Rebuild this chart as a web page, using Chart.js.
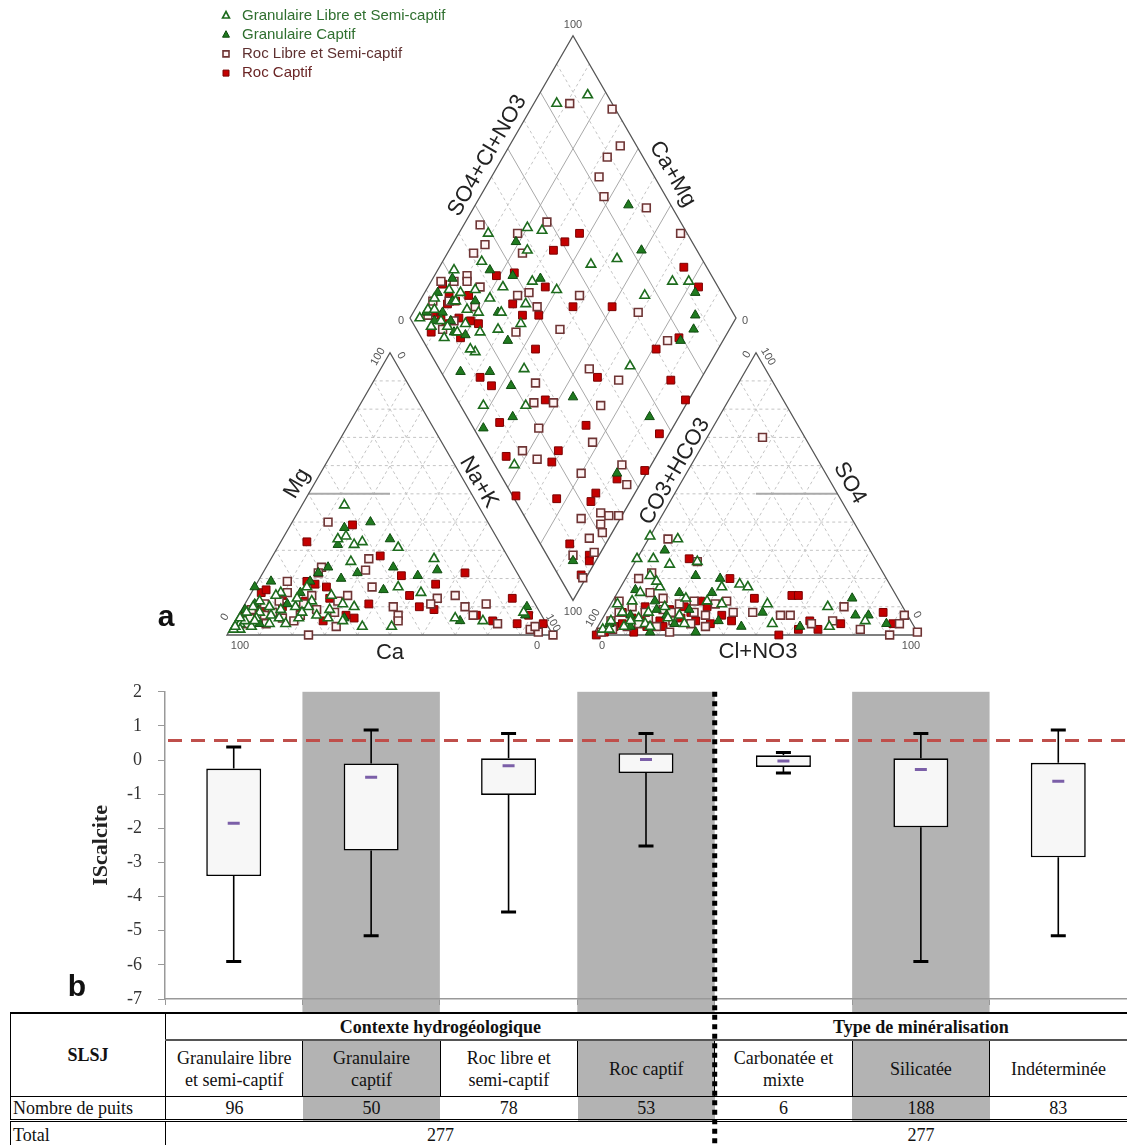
<!DOCTYPE html>
<html>
<head>
<meta charset="utf-8">
<script src="https://cdn.jsdelivr.net/npm/chart.js@4.4.1/dist/chart.umd.min.js"></script>
<style>
  html, body { margin: 0; padding: 0; background: #fff; width: 1127px; height: 1145px; overflow: hidden; position: relative; }
  #piper { position: absolute; left: 0; top: 0; }
  #box { position: absolute; left: 0; top: 665px; z-index: 2; pointer-events: none; }
  #tbl { position: absolute; left: 10px; top: 1012px; width: 1117px; border-collapse: collapse; table-layout: fixed;
         font-family: "Liberation Serif", "Times New Roman", serif; font-size: 18px; color: #111; line-height: 22px; z-index: 1; }
  #tbl td { padding: 0; text-align: center; vertical-align: middle; white-space: nowrap; }
  #tbl tr.r1 td { height: 25px; border-top: 2px solid #000; }
  #tbl td.grp { font-weight: bold; border-bottom: 2px solid #555; }
  #tbl td.corner { font-weight: bold; border-left: 1px solid #000; border-right: 1px solid #000; border-bottom: 1px solid #000; }
  #tbl tr.r2 td { height: 55px; border-bottom: 1px solid #000; border-right: 1px solid #000; }
  #tbl tr.r2 td:last-child { border-right: none; }
  #tbl tr.r3 td { height: 22px; border-bottom: 3px double #000; }
  #tbl tr.r4 td { height: 25px; }
  #tbl td.lab { text-align: left; padding-left: 2px; border-left: 1px solid #000; border-right: 1px solid #000; }
  #tbl td.shade { background: #b3b3b3; }
</style>
</head>
<body>
<canvas id="piper" width="1127" height="665"></canvas>
<canvas id="box" width="1127" height="480"></canvas>
<table id="tbl"></table>
<script>
// ---------- Piper diagram data ----------
// cation triangle: [Ca %, Mg %]  (Na+K = rest)
const glCation = [[41,46],[32,31],[23,27],[33,15],[48,3],[57,3],[69,7],[80,4],[91,3],[94,4],[49,26],[42,33],[45,32],[46,35],[39,17],[27,6],[19,5],[5,8],[82,10],[86,8],[74,10],[76,15],[67,17],[61,14],[49,34],[92,5],[85,4],[59,11],[68,12],[56,10],[88,6],[95,2],[90,8],[84,12],[78,14],[72,13],[64,9],[62,5],[75,6],[93,6],[97,2],[83,7],[96,3],[89,5],[87,10],[81,6],[79,9],[73,8],[66,6],[70,10]];
const gcCation = [[36,40],[33,34],[24,23],[31,21],[37,24],[49,22],[45,38],[50,32],[61,6],[61,22],[57,24],[83,17],[77,19],[76,11],[3,10],[5,7],[26,5],[44,16],[65,19],[86,11],[93,5],[88,4],[90,9],[70,15],[55,20]];
const rlCation = [[49,40],[43,27],[46,23],[47,17],[44,10],[44,7],[29,13],[23,14],[22,10],[15,11],[15,4],[6,2],[4,1],[0,0],[75,0],[65,3],[45,5],[59,24],[60,12],[56,14],[72,19],[78,12],[83,11],[85,7],[74,7],[32,11],[21,7],[4,3],[61,22],[74,15],[88,9],[80,6],[68,9],[92,4],[90,6],[86,4],[82,8],[77,5],[71,11],[67,14],[63,8]];
const rcCation = [[59,33],[42,39],[39,28],[36,21],[16,22],[37,14],[36,10],[6,13],[4,7],[1,4],[16,5],[20,7],[51,11],[58,6],[60,7],[82,15],[76,14],[66,19],[64,18],[27,18],[32,9],[9,4],[61,17],[62,13],[80,16],[88,8],[70,12],[91,7],[85,9],[78,10],[73,9],[68,5]];

// anion triangle: [Cl+NO3 %, SO4 %]  (CO3+HCO3 = rest)
const glAnion = [[0,35],[9,34],[0,27],[5,27],[11,25],[19,26],[7,21],[31,17],[36,18],[39,17],[48,11],[67,10],[71,3],[81,5],[2,11],[7,15],[12,17],[29,12],[23,7],[34,11],[8,3],[2,2],[14,4],[53,4],[5,8],[17,10],[11,6],[22,13],[3,5],[4,2],[9,5],[13,8],[16,3],[20,6],[26,4],[6,12],[10,19]];
const gcAnion = [[7,30],[21,21],[73,13],[77,7],[81,7],[88,4],[44,3],[31,1],[17,1],[48,8],[62,3],[5,16],[19,15],[29,15],[8,7],[19,7],[3,4],[29,20],[13,12],[25,9],[10,3],[15,9],[23,4],[36,5]];
const rlAnion = [[17,70],[6,34],[19,26],[72,10],[71,5],[54,7],[57,7],[92,7],[91,0],[99,1],[92,4],[81,2],[35,12],[32,11],[23,1],[2,12],[4,20],[7,22],[10,15],[17,9],[21,11],[27,8],[31,7],[39,8],[45,8],[3,5],[7,10],[2,1],[65,4],[12,4],[15,13],[25,12],[5,2],[9,3],[14,6],[18,3],[22,5],[28,4],[33,3],[4,8],[12,8],[20,8]];
const rcAnion = [[16,27],[32,20],[43,13],[54,14],[56,14],[57,0],[64,5],[68,2],[74,4],[85,8],[90,4],[62,2],[5,8],[5,3],[1,0],[12,1],[23,10],[26,8],[29,5],[30,10],[11,10],[18,5],[36,7],[19,9],[9,6],[15,3],[3,1],[7,4],[13,5],[20,3],[24,6],[34,4],[40,5],[27,12]];

// diamond: [Na+K %, SO4+Cl+NO3 %]
const glDiamond = [[7,83],[15,94],[9,39],[20,52],[25,56],[24,48],[46,65],[53,74],[74,87],[79,92],[68,76],[40,50],[12,32],[5,22],[7,17],[4,11],[4,7],[23,34],[31,44],[33,38],[21,28],[16,19],[29,25],[26,14],[44,26],[38,7],[51,20],[58,6],[76,59],[3,3],[8,5],[10,9],[14,7],[11,17],[18,16],[24,19],[24,13],[27,29],[11,20],[35,33],[6,9],[13,10],[17,12],[20,22],[15,25]];
const gcDiamond = [[47,87],[59,83],[83,92],[87,88],[89,85],[87,79],[19,46],[33,47],[16,33],[24,39],[26,28],[17,23],[9,11],[34,26],[43,19],[64,36],[49,14],[42,3],[25,6],[34,15],[91,56],[91,36],[93,7],[4,6],[8,7],[13,12],[16,11],[4,13],[10,16],[20,14],[6,20]];
const rlDiamond = [[11,87],[25,99],[34,95],[32,89],[33,83],[38,81],[53,92],[68,98],[25,59],[5,38],[18,48],[10,36],[8,31],[23,46],[10,25],[16,27],[29,37],[32,41],[48,56],[37,41],[69,71],[4,10],[9,15],[11,24],[3,16],[48,44],[35,30],[83,75],[64,46],[75,53],[50,27],[53,23],[59,29],[74,43],[59,20],[78,34],[58,11],[64,14],[80,25],[91,39],[96,37],[88,17],[93,24],[96,26],[95,22],[97,21],[99,29],[94,16],[98,15],[99,7],[92,8],[5,6],[12,8],[14,13],[7,20],[18,22]];
const rcDiamond = [[37,67],[34,61],[32,56],[75,93],[83,94],[60,64],[48,52],[36,47],[29,34],[34,35],[39,40],[19,34],[24,40],[4,16],[9,14],[11,17],[8,16],[9,10],[44,33],[68,47],[56,27],[46,9],[73,35],[54,5],[69,22],[69,18],[91,69],[81,70],[99,70],[97,56],[99,45],[92,35],[64,1],[77,13],[88,26],[88,23],[89,9],[97,13],[98,12],[98,7],[86,79],[32,11],[37,13],[9,4],[12,10],[19,12],[19,18],[6,8],[15,15],[22,20],[14,22]];

const groupNames = ['Granulaire Libre et Semi-captif', 'Granulaire Captif', 'Roc Libre et Semi-captif', 'Roc Captif'];

// ---------- Box plot data (IScalcite) ----------
const categories = ['Granulaire libre et semi-captif', 'Granulaire captif', 'Roc libre et semi-captif', 'Roc captif', 'Carbonatée et mixte', 'Silicatée', 'Indéterminée'];
const categoryLines = [['Granulaire libre', 'et semi-captif'], ['Granulaire', 'captif'], ['Roc libre et', 'semi-captif'], ['Roc captif'], ['Carbonatée et', 'mixte'], ['Silicatée'], ['Indéterminée']];
const boxMin    = [-5.9, -5.15, -4.45, -2.52, -0.38, -5.9, -5.15];
const boxQ1     = [-3.4, -2.65, -1.02, -0.38, -0.2, -1.97, -2.85];
const boxMedian = [-1.85, -0.5, -0.17, 0.02, -0.03, -0.28, -0.62];
const boxQ3     = [-0.25, -0.1, 0.05, 0.2, 0.14, 0.05, -0.08];
const boxMax    = [0.38, 0.88, 0.78, 0.78, 0.22, 0.78, 0.88];
const refLine = 0.57;
const yTicks = [-7, 2];

// ---------- Table data ----------
const tableGroups = ['Contexte hydrogéologique', 'Type de minéralisation'];
const tableSpans = [4, 3];
const wellCounts = [96, 50, 78, 53, 6, 188, 83];

// ---------- Piper geometry (units = percent of a triangle side) ----------
const U = 3.26;            // px per unit
const ORIGIN_X = 227, ORIGIN_Y = 635;
const H = Math.sqrt(3) / 2;
const GAP = 12.27;
const OFF = 100 + GAP;
const BX = 100 + GAP / 2, BY = GAP * H;

const catA = [0, 0], catB = [100, 0], catC = [50, 100 * H];
const anA = [OFF, 0], anB = [OFF + 100, 0], anC = [OFF + 50, 100 * H];
const dB = [BX, BY], dL = [BX - 50, BY + 100 * H], dT = [BX, BY + 200 * H], dR = [BX + 50, BY + 100 * H];

function cationXY(p) { const nak = 100 - p[0] - p[1]; return { x: nak + p[1] / 2, y: p[1] * H }; }
function anionXY(p) { return { x: OFF + p[0] + p[1] / 2, y: p[1] * H }; }
function diamondXY(p) { return { x: dL[0] + (p[1] + p[0]) / 2, y: dL[1] + (p[1] - p[0]) * H }; }

const styles = [
  { shape: 'triangle', fill: '#ffffff', stroke: '#1d6b1d', bw: 1.6, text: '#2f6f2f' },
  { shape: 'triangle', fill: '#1f7a1f', stroke: '#0f4a0f', bw: 1, text: '#2f6f2f' },
  { shape: 'rect', fill: '#fff4f4', stroke: '#6e3434', bw: 1.6, text: '#5e3030' },
  { shape: 'rect', fill: '#c40000', stroke: '#7a0000', bw: 1, text: '#6a2424' }
];
const cationSets = [glCation, gcCation, rlCation, rcCation];
const anionSets = [glAnion, gcAnion, rlAnion, rcAnion];
const diamondSets = [glDiamond, gcDiamond, rlDiamond, rcDiamond];

const piperDatasets = [];
groupNames.forEach((name, g) => {
  const s = styles[g];
  const pts = [].concat(cationSets[g].map(cationXY), anionSets[g].map(anionXY), diamondSets[g].map(diamondXY));
  piperDatasets.push({
    label: name, data: pts, pointStyle: s.shape, pointRadius: 5.5,
    backgroundColor: s.fill, borderColor: s.stroke, borderWidth: s.bw
  });
});

const lerp = (a, b, t) => [a[0] + (b[0] - a[0]) * t, a[1] + (b[1] - a[1]) * t];

const piperDecor = {
  id: 'piperDecor',
  beforeDatasetsDraw(chart) {
    const { ctx, scales: { x, y } } = chart;
    const P = p => [x.getPixelForValue(p[0]), y.getPixelForValue(p[1])];
    const seg = (a, b) => { const A = P(a), B = P(b); ctx.beginPath(); ctx.moveTo(A[0], A[1]); ctx.lineTo(B[0], B[1]); ctx.stroke(); };
    ctx.save();
    // triangle grids
    [[catA, catB, catC], [anA, anB, anC]].forEach(([A, B, C]) => {
      ctx.strokeStyle = '#c4c4c4'; ctx.lineWidth = 1; ctx.setLineDash([3, 3]);
      for (let i = 1; i < 10; i++) {
        const t = i / 10;
        seg(lerp(A, C, t), lerp(B, C, t));
        seg(lerp(A, B, t), lerp(C, B, t));
        seg(lerp(A, B, t), lerp(A, C, t));
      }
    });
    ctx.setLineDash([]);
    ctx.strokeStyle = '#aaaaaa'; ctx.lineWidth = 2;
    seg(lerp(catA, catC, 0.5), [50, 50 * H]);
    seg([OFF + 50, 50 * H], lerp(anB, anC, 0.5));
    // diamond grid
    for (let i = 1; i < 10; i++) {
      const t = i / 10;
      if (i % 2 === 0) { ctx.setLineDash([]); ctx.strokeStyle = '#a8a8a8'; ctx.lineWidth = 1; }
      else { ctx.setLineDash([3, 3]); ctx.strokeStyle = '#c4c4c4'; ctx.lineWidth = 1; }
      seg(lerp(dL, dB, t), lerp(dT, dR, t));
      seg(lerp(dL, dT, t), lerp(dB, dR, t));
    }
    // outlines
    ctx.setLineDash([]); ctx.strokeStyle = '#555'; ctx.lineWidth = 1.3;
    [[catA, catB, catC], [anA, anB, anC], [dL, dT, dR, dB]].forEach(poly => {
      ctx.beginPath();
      poly.forEach((p, i) => { const q = P(p); i ? ctx.lineTo(q[0], q[1]) : ctx.moveTo(q[0], q[1]); });
      ctx.closePath(); ctx.stroke();
    });
    ctx.restore();
  },
  afterDraw(chart) {
    const { ctx, scales: { x, y } } = chart;
    const P = p => [x.getPixelForValue(p[0]), y.getPixelForValue(p[1])];
    const txt = (s, px, py, ang, font, color) => {
      ctx.save(); ctx.translate(px, py); ctx.rotate(ang * Math.PI / 180);
      ctx.font = font; ctx.fillStyle = color; ctx.textAlign = 'center'; ctx.textBaseline = 'middle';
      ctx.fillText(s, 0, 0); ctx.restore();
    };
    const edgeLabel = (s, A, C, t, off, ang) => {
      const a = P(A), c = P(C);
      const len = Math.hypot(c[0] - a[0], c[1] - a[1]);
      const ex = (c[0] - a[0]) / len, ey = (c[1] - a[1]) / len;
      const px = a[0] + (c[0] - a[0]) * t + ey * off, py = a[1] + (c[1] - a[1]) * t - ex * off;
      txt(s, px, py, ang, '22px "Liberation Sans", Arial, sans-serif', '#222');
    };
    edgeLabel('Mg', catA, catC, 0.51, 15, -60);
    edgeLabel('Na+K', catB, catC, 0.52, -12, 60);
    edgeLabel('CO3+HCO3', anA, anC, 0.56, 11, -60);
    edgeLabel('SO4', anB, anC, 0.51, -16, 60);
    edgeLabel('SO4+Cl+NO3', dL, dT, 0.55, 14, -60);
    edgeLabel('Ca+Mg', dR, dT, 0.48, -17, 60);
    const cb = P(lerp(catA, catB, 0.5)), ab = P(lerp(anA, anB, 0.5));
    txt('Ca', cb[0], cb[1] + 18, 0, '22px "Liberation Sans", Arial, sans-serif', '#222');
    txt('Cl+NO3', ab[0] + 2, ab[1] + 17, 0, '22px "Liberation Sans", Arial, sans-serif', '#222');

    // small tick labels at the vertices
    const small = '11px "Liberation Sans", Arial, sans-serif';
    const ticks = [
      ['100', dT, 0, -11, 0], ['0', dL, -9, 3, 0], ['0', dR, 9, 3, 0], ['100', dB, 0, 12, 0],
      ['100', catA, 13, 11, 0], ['0', catB, -16, 11, 0], ['0', catA, -2, -18, -60], ['100', catC, -12, 4, -60], ['0', catC, 11, 3, 60], ['100', catB, 0, -12, 60],
      ['100', anA, 0, -17, -60], ['0', anA, 9, 11, 0], ['100', anB, -8, 11, 0], ['0', anC, -9, 2, -60], ['100', anC, 12, 4, 60], ['0', anB, -2, -20, 60]
    ];
    ticks.forEach(([s, v, dx, dy, ang]) => { const p = P(v); txt(s, p[0] + dx, p[1] + dy, ang, small, '#555'); });

    txt('a', 166, 618, 0, 'bold 30px "Liberation Sans", Arial, sans-serif', '#111');

    // legend
    chart.data.datasets.forEach((ds, i) => {
      const s = styles[i];
      const ly = 15.5 + 19.2 * i, lx = 226, r = 4;
      ctx.save();
      ctx.fillStyle = s.fill; ctx.strokeStyle = s.stroke; ctx.lineWidth = s.bw;
      ctx.beginPath();
      if (s.shape === 'triangle') {
        ctx.moveTo(lx, ly - r); ctx.lineTo(lx + r * H, ly + r / 2 + 0.5); ctx.lineTo(lx - r * H, ly + r / 2 + 0.5); ctx.closePath();
      } else {
        ctx.rect(lx - 3, ly - 3, 6, 6);
      }
      ctx.fill(); ctx.stroke();
      ctx.font = '15px "Liberation Sans", Arial, sans-serif'; ctx.fillStyle = s.text; ctx.textBaseline = 'middle'; ctx.textAlign = 'left';
      ctx.fillText(ds.label, 242, ly);
      ctx.restore();
    });
  }
};

new Chart(document.getElementById('piper'), {
  type: 'scatter',
  data: { datasets: piperDatasets },
  options: {
    responsive: false, animation: false, devicePixelRatio: 1,
    layout: { padding: 0, autoPadding: false },
    scales: {
      x: { type: 'linear', display: false, min: -ORIGIN_X / U, max: (1127 - ORIGIN_X) / U },
      y: { type: 'linear', display: false, min: (ORIGIN_Y - 665) / U, max: ORIGIN_Y / U }
    },
    plugins: { legend: { display: false }, tooltip: { enabled: false } }
  },
  plugins: [piperDecor]
});

// ---------- Box plot ----------
const boxDecor = {
  id: 'boxDecor',
  beforeDraw(chart) {
    const { ctx, chartArea, scales: { x } } = chart;
    const half = (x.getPixelForValue(1) - x.getPixelForValue(0)) / 2;
    ctx.save(); ctx.fillStyle = '#b3b3b3';
    categories.forEach((c, i) => {
      if (i % 2 === 1) {
        const cx = x.getPixelForValue(i);
        ctx.fillRect(cx - half, chartArea.top, half * 2, 347 - chartArea.top);
      }
    });
    ctx.restore();
  },
  beforeDatasetsDraw(chart) {
    const { ctx, scales: { x, y } } = chart;
    ctx.save(); ctx.strokeStyle = '#000';
    boxMin.forEach((lo, i) => {
      const cx = x.getPixelForValue(i);
      const yLo = y.getPixelForValue(lo), yHi = y.getPixelForValue(boxMax[i]);
      ctx.lineWidth = 1.6;
      ctx.beginPath();
      ctx.moveTo(cx, yHi); ctx.lineTo(cx, y.getPixelForValue(boxQ3[i]));
      ctx.moveTo(cx, y.getPixelForValue(boxQ1[i])); ctx.lineTo(cx, yLo);
      ctx.stroke();
      ctx.lineWidth = 3;
      ctx.beginPath();
      ctx.moveTo(cx - 7.5, yHi); ctx.lineTo(cx + 7.5, yHi);
      ctx.moveTo(cx - 7.5, yLo); ctx.lineTo(cx + 7.5, yLo);
      ctx.stroke();
    });
    ctx.restore();
  },
  afterDatasetsDraw(chart) {
    const { ctx, chartArea, scales: { y } } = chart;
    const yy = y.getPixelForValue(refLine);
    ctx.save();
    ctx.strokeStyle = '#bf4f4b'; ctx.lineWidth = 3; ctx.setLineDash([14, 9]);
    ctx.beginPath(); ctx.moveTo(chartArea.left + 3, yy); ctx.lineTo(chartArea.right, yy); ctx.stroke();
    ctx.restore();
  },
  afterDraw(chart) {
    const { ctx, chartArea, scales: { x } } = chart;
    const sx = (x.getPixelForValue(3) + x.getPixelForValue(4)) / 2;
    ctx.save();
    ctx.strokeStyle = '#000'; ctx.lineWidth = 5; ctx.setLineDash([5, 4.5]);
    ctx.beginPath(); ctx.moveTo(sx, chartArea.top); ctx.lineTo(sx, chart.height); ctx.stroke();
    ctx.setLineDash([]);
    ctx.font = 'bold 30px "Liberation Sans", Arial, sans-serif'; ctx.fillStyle = '#111';
    ctx.textAlign = 'center'; ctx.textBaseline = 'middle';
    ctx.fillText('b', 77, 323);
    ctx.restore();
  }
};

new Chart(document.getElementById('box'), {
  type: 'bar',
  data: {
    labels: categories,
    datasets: [
      { type: 'line', label: 'Médiane', data: boxMedian, showLine: false, pointStyle: 'line',
        pointRadius: 6, pointBorderWidth: 3, pointBorderColor: '#7b5fa8', order: 0 },
      { type: 'bar', label: 'Q1–Q3', data: boxQ1.map((v, i) => [v, boxQ3[i]]),
        backgroundColor: '#f7f7f7', borderColor: '#000', borderWidth: 1.6, borderSkipped: false,
        barPercentage: 0.4, categoryPercentage: 1, order: 1 }
    ]
  },
  options: {
    responsive: false, animation: false, devicePixelRatio: 1,
    layout: { padding: { left: 84, top: 23, right: 0, bottom: 0 }, autoPadding: false },
    scales: {
      x: {
        offset: true,
        ticks: { display: false },
        grid: { offset: true, drawOnChartArea: false, drawTicks: true, tickLength: 6, color: '#999' },
        border: { color: '#999', width: 1.5 },
        afterFit(s) { s.height = 146; }
      },
      y: {
        min: yTicks[0], max: yTicks[1],
        ticks: { stepSize: 1, color: '#333', padding: 16, font: { family: '"Liberation Serif", "Times New Roman", serif', size: 18 } },
        grid: { drawOnChartArea: false, drawTicks: true, tickLength: 7, color: '#999' },
        border: { color: '#999', width: 1.5 },
        title: { display: true, text: 'IScalcite', color: '#222', padding: { top: 4, bottom: 4 },
                 font: { family: '"Liberation Serif", "Times New Roman", serif', size: 22, weight: 'bold' } },
        afterFit(s) { s.width = 81; }
      }
    },
    plugins: { legend: { display: false }, tooltip: { enabled: false } }
  },
  plugins: [boxDecor]
});

// ---------- Table ----------
const tbl = document.getElementById('tbl');
let html = '<colgroup><col style="width:155px">' + categories.map(() => '<col>').join('') + '</colgroup>';
html += '<tr class="r1"><td class="corner" rowspan="2">SLSJ</td>' +
  tableGroups.map((g, i) => `<td class="grp" colspan="${tableSpans[i]}">${g}</td>`).join('') + '</tr>';
html += '<tr class="r2">' + categoryLines.map((l, i) => `<td class="${i % 2 ? 'shade' : ''}">${l.join('<br>')}</td>`).join('') + '</tr>';
html += '<tr class="r3"><td class="lab">Nombre de puits</td>' + wellCounts.map((n, i) => `<td class="${i % 2 ? 'shade' : ''}">${n}</td>`).join('') + '</tr>';
let start = 0;
html += '<tr class="r4"><td class="lab">Total</td>' + tableSpans.map(span => {
  const total = wellCounts.slice(start, start + span).reduce((a, b) => a + b, 0);
  start += span;
  return `<td colspan="${span}">${total}</td>`;
}).join('') + '</tr>';
tbl.innerHTML = html;
</script>
</body>
</html>
